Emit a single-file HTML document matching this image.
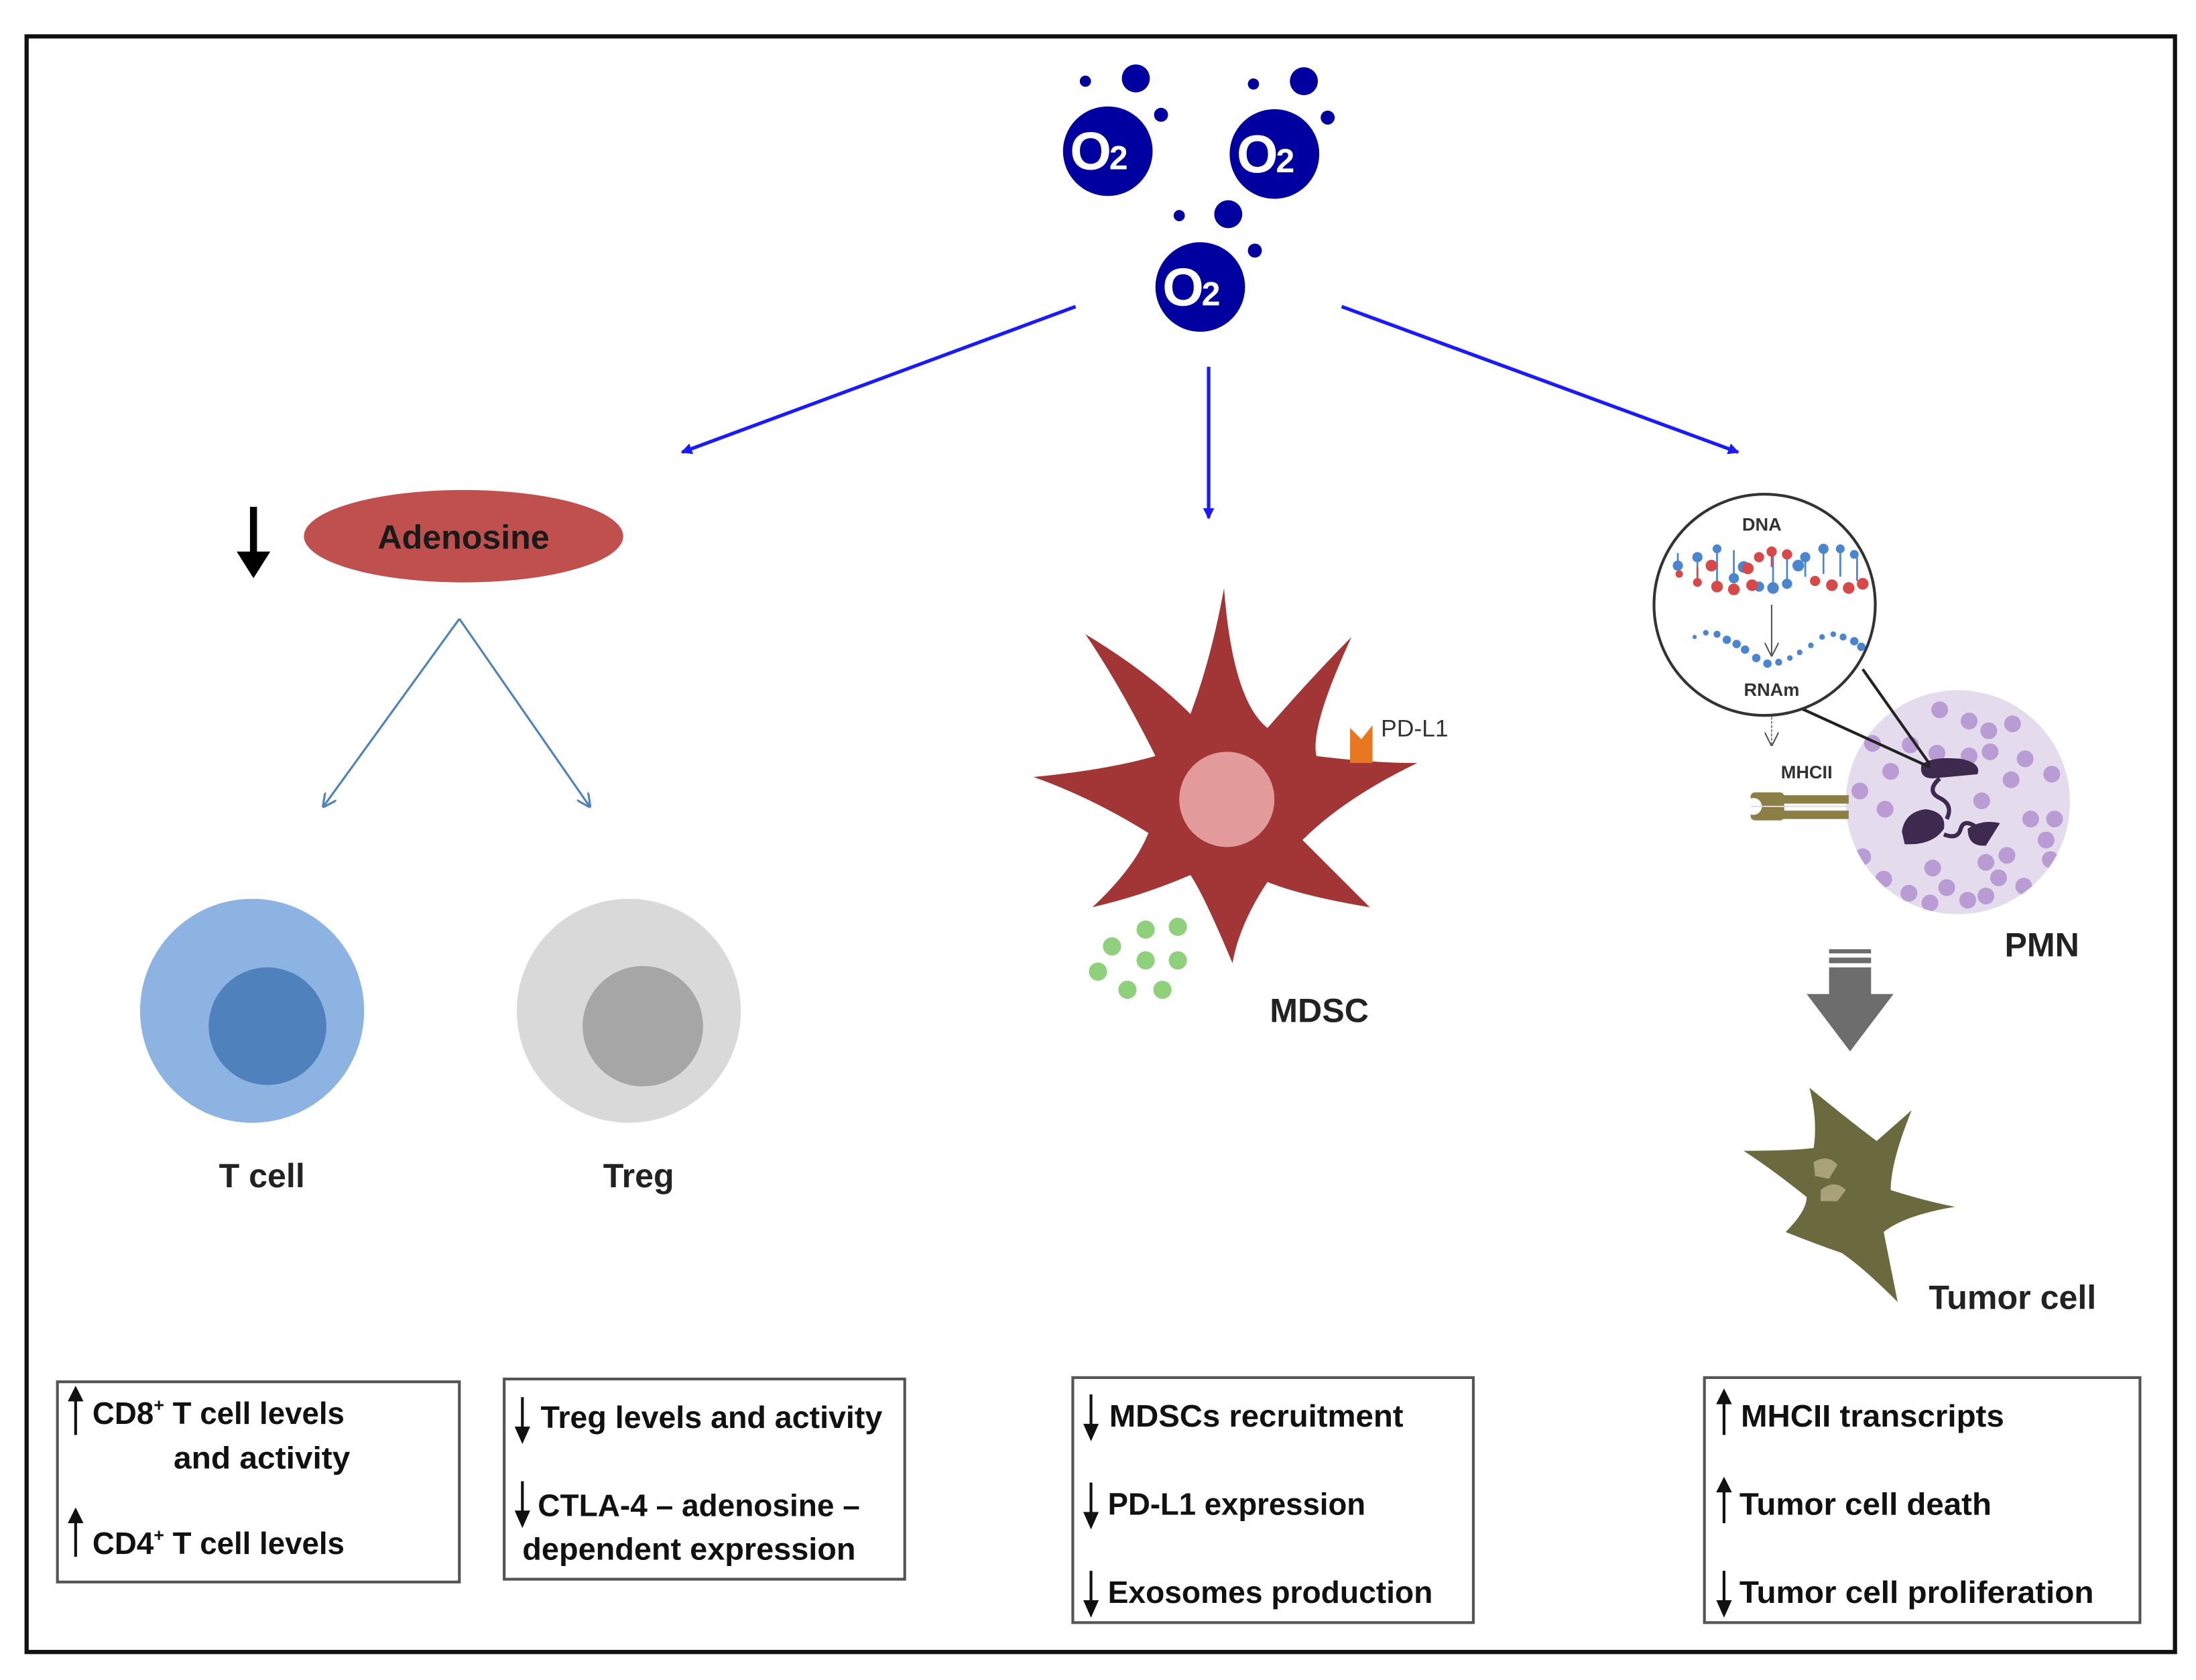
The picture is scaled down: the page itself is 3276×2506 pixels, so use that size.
<!DOCTYPE html>
<html><head><meta charset="utf-8"><style>
html,body{margin:0;padding:0;background:#fff;}
svg{display:block;}
text{font-family:"Liberation Sans",sans-serif;font-weight:bold;}
</style></head><body>
<svg width="3276" height="2506" viewBox="0 0 1568 1200" preserveAspectRatio="none" xmlns="http://www.w3.org/2000/svg">
<defs>
<marker id="ab" markerWidth="8" markerHeight="8" refX="7" refY="4" orient="auto" markerUnits="userSpaceOnUse"><path d="M0,0 L8,4 L0,8 z" fill="#1a1aff"/></marker>
<marker id="al" markerWidth="10" markerHeight="10" refX="9" refY="5" orient="auto" markerUnits="userSpaceOnUse"><path d="M0,0 L10,5 L0,10" fill="none" stroke="#4f81bd" stroke-width="1.5"/></marker>
<marker id="ag" markerWidth="10" markerHeight="10" refX="9" refY="5" orient="auto" markerUnits="userSpaceOnUse"><path d="M0,0 L10,5 L0,10" fill="none" stroke="#555" stroke-width="1"/></marker>
<marker id="ak" markerWidth="8" markerHeight="12" refX="7" refY="4" orient="auto" markerUnits="userSpaceOnUse"><path d="M0,0 L8,4 L0,8 z" fill="#111"/></marker>
<clipPath id="pmn"><circle cx="1398" cy="573" r="80"/></clipPath>
</defs>
<rect x="19" y="26" width="1534" height="1154" fill="none" stroke="#111" stroke-width="3"/>

<!-- O2 molecules -->
<g fill="#0000a0">
<circle cx="791" cy="108" r="32"/><circle cx="775" cy="58" r="4"/><circle cx="811" cy="56" r="10"/><circle cx="829" cy="82" r="5"/>
<circle cx="910" cy="110" r="32"/><circle cx="895" cy="60" r="4"/><circle cx="931" cy="58" r="10"/><circle cx="948" cy="84" r="5"/>
<circle cx="857" cy="205" r="32"/><circle cx="842" cy="154" r="4"/><circle cx="877" cy="153" r="10"/><circle cx="896" cy="179" r="5"/>
</g>
<g fill="#fff">
<text x="764" y="121" font-size="38">O</text><text x="792" y="121" font-size="24">2</text>
<text x="883" y="123" font-size="38">O</text><text x="911" y="123" font-size="24">2</text>
<text x="830" y="218" font-size="38">O</text><text x="858" y="218" font-size="24">2</text>
</g>
<g stroke="#1a1aff" stroke-width="2.5" fill="none">
<line x1="768" y1="219" x2="487" y2="323" marker-end="url(#ab)"/>
<line x1="863" y1="262" x2="863" y2="370" marker-end="url(#ab)"/>
<line x1="958" y1="219" x2="1241" y2="323" marker-end="url(#ab)"/>
</g>

<!-- Adenosine -->
<line x1="181" y1="362" x2="181" y2="398" stroke="#000" stroke-width="5"/>
<path d="M169,394 L193,394 L181,413 z" fill="#000"/>
<ellipse cx="331" cy="383" rx="114" ry="33" fill="#c0504d"/>
<text x="331" y="392" font-size="24" fill="#1a1a1a" text-anchor="middle">Adenosine</text>
<g stroke="#4f81bd" stroke-width="1.5" fill="none">
<line x1="328" y1="442" x2="231" y2="576" marker-end="url(#al)"/>
<line x1="328" y1="442" x2="421" y2="576" marker-end="url(#al)"/>
</g>
<circle cx="180" cy="722" r="80" fill="#8db3e2"/><circle cx="191" cy="733" r="42" fill="#4f81bd"/>
<circle cx="449" cy="722" r="80" fill="#d9d9d9"/><circle cx="459" cy="733" r="43" fill="#a6a6a6"/>
<text x="187" y="848" font-size="24" text-anchor="middle" fill="#222">T cell</text>
<text x="456" y="848" font-size="24" text-anchor="middle" fill="#222">Treg</text>

<!-- MDSC -->
<path d="M874,420 Q880,500 905,520 Q940,480 965,455 Q935,520 940,540 Q980,545 1012,545 Q960,570 930,600 Q960,630 978,648 Q930,640 905,630 Q885,660 880,688 Q860,640 850,625 Q815,640 780,648 Q810,620 820,595 Q780,570 738,555 Q790,550 825,540 Q800,490 775,453 Q820,480 850,510 Q865,470 874,420 z" fill="#a23535"/>
<circle cx="876" cy="571" r="34" fill="#e39a9a"/>
<path d="M964,520 L972,528 L980,518 L980,545 L964,545 z" fill="#e87722"/>
<text x="986" y="526" font-size="17" fill="#333" style="font-weight:normal">PD-L1</text>
<g fill="#8fd17a">
<circle cx="794" cy="676" r="6.5"/><circle cx="818" cy="664" r="6.5"/><circle cx="841" cy="662" r="6.5"/>
<circle cx="784" cy="694" r="6.5"/><circle cx="818" cy="686" r="6.5"/><circle cx="841" cy="686" r="6.5"/>
<circle cx="805" cy="707" r="6.5"/><circle cx="830" cy="707" r="6.5"/>
</g>
<text x="942" y="730" font-size="24" text-anchor="middle" fill="#222">MDSC</text>

<!-- PMN -->
<circle cx="1398" cy="573" r="80" fill="#e4dcec"/>
<g fill="#b99cd3" clip-path="url(#pmn)">
<circle cx="1385" cy="507" r="6"/><circle cx="1406" cy="515" r="6"/><circle cx="1420" cy="522" r="6"/><circle cx="1437" cy="517" r="6"/>
<circle cx="1364" cy="532" r="6"/><circle cx="1383" cy="538" r="6"/><circle cx="1406" cy="540" r="6"/><circle cx="1421" cy="537" r="6"/><circle cx="1446" cy="542" r="6"/>
<circle cx="1337" cy="531" r="6"/><circle cx="1350" cy="551" r="6"/><circle cx="1436" cy="557" r="6"/><circle cx="1465" cy="553" r="6"/>
<circle cx="1328" cy="565" r="6"/><circle cx="1346" cy="578" r="6"/><circle cx="1415" cy="572" r="6"/><circle cx="1450" cy="585" r="6"/><circle cx="1467" cy="585" r="6"/>
<circle cx="1330" cy="612" r="6"/><circle cx="1380" cy="620" r="6"/><circle cx="1418" cy="616" r="6"/><circle cx="1433" cy="611" r="6"/><circle cx="1464" cy="614" r="6"/><circle cx="1461" cy="600" r="6"/>
<circle cx="1345" cy="628" r="6"/><circle cx="1363" cy="638" r="6"/><circle cx="1390" cy="634" r="6"/><circle cx="1427" cy="627" r="6"/><circle cx="1445" cy="633" r="6"/>
<circle cx="1378" cy="645" r="6"/><circle cx="1405" cy="643" r="6"/><circle cx="1418" cy="640" r="6"/>
</g>
<g fill="#3f2a4f">
<path d="M1372,546 Q1380,540 1400,542 Q1415,545 1412,553 L1380,556 Q1370,556 1372,546 z"/>
<path d="M1358,594 Q1360,580 1375,578 Q1390,580 1388,592 Q1380,604 1360,603 z"/>
<path d="M1405,592 Q1415,585 1428,588 L1418,604 Q1405,605 1405,592 z"/>
</g>
<path d="M1385,556 Q1375,565 1385,570 Q1395,575 1390,585 M1388,596 Q1398,600 1400,592 Q1402,585 1410,590" stroke="#3f2a4f" stroke-width="3" fill="none"/>
<rect x="1250" y="566" width="24" height="20" rx="3" fill="#8b7f45"/>
<rect x="1272" y="568" width="48" height="6" fill="#8b7f45"/><rect x="1272" y="579" width="48" height="6" fill="#8b7f45"/>
<circle cx="1252" cy="576" r="6" fill="#fff"/>
<line x1="1250" y1="576" x2="1320" y2="576" stroke="#ddd" stroke-width="1"/>
<!-- magnifier -->
<line x1="1286" y1="506" x2="1378" y2="548" stroke="#222" stroke-width="2"/>
<line x1="1330" y1="478" x2="1378" y2="546" stroke="#222" stroke-width="2"/>
<circle cx="1260" cy="432" r="79" fill="#fff" stroke="#333" stroke-width="2"/>
<text x="1258" y="379" font-size="13" text-anchor="middle" fill="#333">DNA</text>
<g stroke-width="1.3">
<g stroke="#4a86d0" fill="#4a86d0">
<line x1="1198" y1="405" x2="1198" y2="395"/><circle cx="1198" cy="404" r="3"/>
<line x1="1212" y1="412" x2="1212" y2="398"/><circle cx="1212" cy="398" r="3"/>
<line x1="1226" y1="415" x2="1226" y2="392"/><circle cx="1226" cy="392" r="2.5"/>
<line x1="1238" y1="412" x2="1238" y2="393"/><circle cx="1238" cy="413" r="3"/>
<line x1="1266" y1="420" x2="1266" y2="395"/><circle cx="1266" cy="420" r="3.5"/><circle cx="1256" cy="419" r="3"/>
<line x1="1276" y1="418" x2="1276" y2="398"/><circle cx="1276" cy="417" r="3"/>
<line x1="1289" y1="412" x2="1289" y2="398"/><circle cx="1289" cy="398" r="3"/>
<line x1="1302" y1="410" x2="1302" y2="392"/><circle cx="1302" cy="392" r="3"/>
<line x1="1314" y1="412" x2="1314" y2="392"/><circle cx="1314" cy="392" r="2.5"/>
<line x1="1326" y1="415" x2="1326" y2="395"/><circle cx="1324" cy="396" r="2.5"/>
<circle cx="1245" cy="405" r="3.5"/><circle cx="1284" cy="404" r="3.5"/>
</g>
<g stroke="#d94848" fill="#d94848">
<circle cx="1199" cy="410" r="2"/><line x1="1212" y1="405" x2="1212" y2="416"/><circle cx="1212" cy="416" r="2.5"/>
<circle cx="1226" cy="419" r="3.5"/><circle cx="1238" cy="421" r="3.5"/><circle cx="1251" cy="418" r="3.5"/>
<circle cx="1222" cy="404" r="3.5"/><circle cx="1248" cy="406" r="3.5"/><circle cx="1256" cy="398" r="3"/>
<line x1="1265" y1="395" x2="1265" y2="405"/><circle cx="1265" cy="394" r="3"/><circle cx="1276" cy="396" r="3"/>
<circle cx="1296" cy="415" r="3"/><circle cx="1308" cy="418" r="3.5"/><circle cx="1320" cy="420" r="3.5"/><circle cx="1330" cy="417" r="3.5"/>
</g>
</g>
<g fill="#4a86d0">
<circle cx="1210" cy="455" r="1.5"/><circle cx="1218" cy="452" r="2"/><circle cx="1226" cy="453" r="2.5"/><circle cx="1233" cy="457" r="3"/><circle cx="1240" cy="460" r="3"/><circle cx="1246" cy="464" r="3"/>
<circle cx="1254" cy="470" r="3"/><circle cx="1262" cy="474" r="3"/><circle cx="1270" cy="473" r="2.5"/><circle cx="1278" cy="470" r="2"/><circle cx="1285" cy="466" r="2"/>
<circle cx="1293" cy="461" r="2"/><circle cx="1301" cy="455" r="2"/><circle cx="1309" cy="453" r="2"/><circle cx="1316" cy="455" r="2.5"/><circle cx="1324" cy="458" r="3"/><circle cx="1329" cy="462" r="3"/>
</g>
<line x1="1265" y1="432" x2="1265" y2="468" stroke="#555" stroke-width="1" marker-end="url(#ag)"/>
<text x="1265" y="497" font-size="13" text-anchor="middle" fill="#333">RNAm</text>
<line x1="1265" y1="512" x2="1265" y2="532" stroke="#888" stroke-width="1" stroke-dasharray="2,1" marker-end="url(#ag)"/>
<text x="1290" y="556" font-size="13" text-anchor="middle" fill="#333">MHCII</text>
<text x="1458" y="683" font-size="24" text-anchor="middle" fill="#222">PMN</text>

<!-- gray arrow -->
<rect x="1306" y="678" width="30" height="3" fill="#6d6d6d"/>
<rect x="1306" y="684" width="30" height="4" fill="#6d6d6d"/>
<rect x="1306" y="691" width="30" height="20" fill="#6d6d6d"/>
<path d="M1290,710 L1352,710 L1321,751 z" fill="#6d6d6d"/>

<!-- tumor cell -->
<path d="M1292,777 Q1320,800 1340,815 L1365,793 Q1350,830 1350,850 Q1375,858 1396,862 Q1360,868 1345,880 Q1350,905 1355,930 Q1330,905 1315,895 Q1295,888 1275,880 Q1290,865 1290,855 Q1265,835 1245,822 Q1280,822 1295,820 Q1298,800 1292,777 z" fill="#6b6a3f"/>
<path d="M1295,830 Q1305,824 1312,832 L1306,842 L1296,840 z M1300,850 Q1310,842 1318,850 L1312,858 L1300,858 z" fill="#a8a17a"/>
<text x="1437" y="935" font-size="24" text-anchor="middle" fill="#222">Tumor cell</text>

<!-- Boxes -->
<g fill="#fff" stroke="#555" stroke-width="2">
<rect x="41" y="987" width="287" height="143"/>
<rect x="360" y="985" width="286" height="143"/>
<rect x="766" y="984" width="286" height="175"/>
<rect x="1217" y="984" width="311" height="175"/>
</g>
<!-- box arrows -->
<g stroke="#111" stroke-width="2" fill="#111">
<line x1="54" y1="1025" x2="54" y2="998"/><path d="M50,1000 L54,992 L58,1000 z"/>
<line x1="54" y1="1112" x2="54" y2="1085"/><path d="M50,1087 L54,1079 L58,1087 z"/>
<line x1="373" y1="998" x2="373" y2="1022"/><path d="M369,1020 L373,1029 L377,1020 z"/>
<line x1="373" y1="1058" x2="373" y2="1082"/><path d="M369,1080 L373,1089 L377,1080 z"/>
<line x1="779" y1="996" x2="779" y2="1020"/><path d="M775,1018 L779,1027 L783,1018 z"/>
<line x1="779" y1="1059" x2="779" y2="1083"/><path d="M775,1081 L779,1090 L783,1081 z"/>
<line x1="779" y1="1122" x2="779" y2="1146"/><path d="M775,1144 L779,1153 L783,1144 z"/>
<line x1="1231" y1="1025" x2="1231" y2="1000"/><path d="M1227,1002 L1231,994 L1235,1002 z"/>
<line x1="1231" y1="1088" x2="1231" y2="1063"/><path d="M1227,1065 L1231,1057 L1235,1065 z"/>
<line x1="1231" y1="1122" x2="1231" y2="1146"/><path d="M1227,1144 L1231,1153 L1235,1144 z"/>
</g>
<g font-size="22" fill="#111">
<text x="66" y="1017" textLength="180" lengthAdjust="spacingAndGlyphs">CD8<tspan font-size="13" dy="-9">+</tspan><tspan dy="9"> T cell levels</tspan></text>
<text x="124" y="1049" textLength="126" lengthAdjust="spacingAndGlyphs">and activity</text>
<text x="66" y="1110" textLength="180" lengthAdjust="spacingAndGlyphs">CD4<tspan font-size="13" dy="-9">+</tspan><tspan dy="9"> T cell levels</tspan></text>

<text x="386" y="1020" textLength="244" lengthAdjust="spacingAndGlyphs">Treg levels and activity</text>
<text x="384" y="1083" textLength="230" lengthAdjust="spacingAndGlyphs">CTLA-4 – adenosine –</text>
<text x="373" y="1114" textLength="238" lengthAdjust="spacingAndGlyphs">dependent expression</text>

<text x="792" y="1019" textLength="210" lengthAdjust="spacingAndGlyphs">MDSCs recruitment</text>
<text x="791" y="1082" textLength="184" lengthAdjust="spacingAndGlyphs">PD-L1 expression</text>
<text x="791" y="1145" textLength="232" lengthAdjust="spacingAndGlyphs">Exosomes production</text>

<text x="1243" y="1019" textLength="188" lengthAdjust="spacingAndGlyphs">MHCII transcripts</text>
<text x="1242" y="1082" textLength="180" lengthAdjust="spacingAndGlyphs">Tumor cell death</text>
<text x="1242" y="1145" textLength="253" lengthAdjust="spacingAndGlyphs">Tumor cell proliferation</text>
</g>
</svg>
</body></html>
